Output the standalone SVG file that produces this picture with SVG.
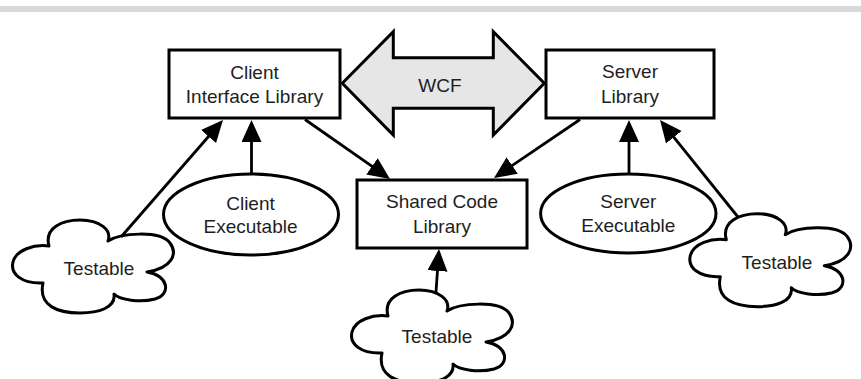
<svg xmlns="http://www.w3.org/2000/svg" xmlns:xlink="http://www.w3.org/1999/xlink" width="861" height="379" viewBox="0 0 861 379">
<style>
.box{fill:#fff;stroke:#000;stroke-width:3}
.shape{fill:#fff;stroke:#000;stroke-width:3;stroke-linejoin:round}
.lbl{font-family:"Liberation Sans",Arial,sans-serif;font-size:19px;fill:#1e1e1e;text-anchor:middle}
.conn{stroke:#000;stroke-width:2.8;fill:none;marker-end:url(#ah)}
</style>
<defs>
<marker id="ah" markerUnits="userSpaceOnUse" markerWidth="24" markerHeight="22" refX="12" refY="10" orient="auto">
<path d="M0,0 L22,10 L0,20 Z" fill="#000"/>
</marker>
<path id="cloud" d="M49,246 C44,228 62,220 80,220 C100,220 112,230 108,241 C120,233 160,230 170,243 C178,254 172,268 147,272 C168,275 172,294 155,299 C140,303 120,300 114,294 C116,308 98,313 80,313 C58,313 38,306 43,283 C22,284 10,274 13,262 C16,250 34,244 49,246 Z"/>
</defs>
<rect x="0" y="6" width="861" height="6" fill="#d9d9d9"/>

<g id="wcf">
<polygon points="342.3,83.3 393.3,31.7 393.3,57.7 493.3,57.7 493.3,31.7 544.3,83.3 493.3,135 493.3,108.3 393.3,108.3 393.3,135" fill="#e6e6e6" stroke="#000" stroke-width="3" stroke-linejoin="miter"/>
<text class="lbl" x="440" y="91.7">WCF</text>
</g>

<g id="client-lib">
<rect class="box" x="169" y="50" width="171" height="68"/>
<text class="lbl" x="254.5" y="79">Client</text>
<text class="lbl" x="254.5" y="103">Interface Library</text>
</g>

<g id="server-lib">
<rect class="box" x="546" y="50" width="168" height="68"/>
<text class="lbl" x="630" y="78.3">Server</text>
<text class="lbl" x="630" y="103.3">Library</text>
</g>

<g id="shared-lib">
<rect class="box" x="357" y="180" width="170" height="68"/>
<text class="lbl" x="442" y="208.3">Shared Code</text>
<text class="lbl" x="442" y="232.7">Library</text>
</g>

<g id="client-exe">
<ellipse class="shape" cx="251" cy="214.5" rx="87.5" ry="40.5"/>
<text class="lbl" x="250.5" y="210">Client</text>
<text class="lbl" x="250.5" y="233.3">Executable</text>
</g>

<g id="server-exe">
<ellipse class="shape" cx="628.3" cy="213.5" rx="87.7" ry="39.5"/>
<text class="lbl" x="628.3" y="208.3">Server</text>
<text class="lbl" x="628.3" y="232.3">Executable</text>
</g>

<g id="testable-left">
<use xlink:href="#cloud" class="shape"/>
<text class="lbl" x="99" y="275">Testable</text>
</g>

<g id="testable-middle">
<use xlink:href="#cloud" class="shape" transform="translate(339,70)"/>
<text class="lbl" x="437" y="343.3">Testable</text>
</g>

<g id="testable-right">
<use xlink:href="#cloud" class="shape" transform="translate(677.3,-6.3)"/>
<text class="lbl" x="777" y="269">Testable</text>
</g>

<g id="connectors">
<line class="conn" x1="121" y1="237" x2="216.4" y2="127.5"/>
<line class="conn" x1="251.5" y1="174" x2="251.5" y2="130"/>
<line class="conn" x1="305" y1="119.5" x2="381.8" y2="173.2"/>
<line class="conn" x1="580" y1="119.5" x2="502.3" y2="172.3"/>
<line class="conn" x1="629" y1="174" x2="629" y2="130"/>
<line class="conn" x1="738" y1="217" x2="666.3" y2="127.8"/>
<line class="conn" x1="436" y1="292" x2="438.3" y2="259"/>
</g>
</svg>
